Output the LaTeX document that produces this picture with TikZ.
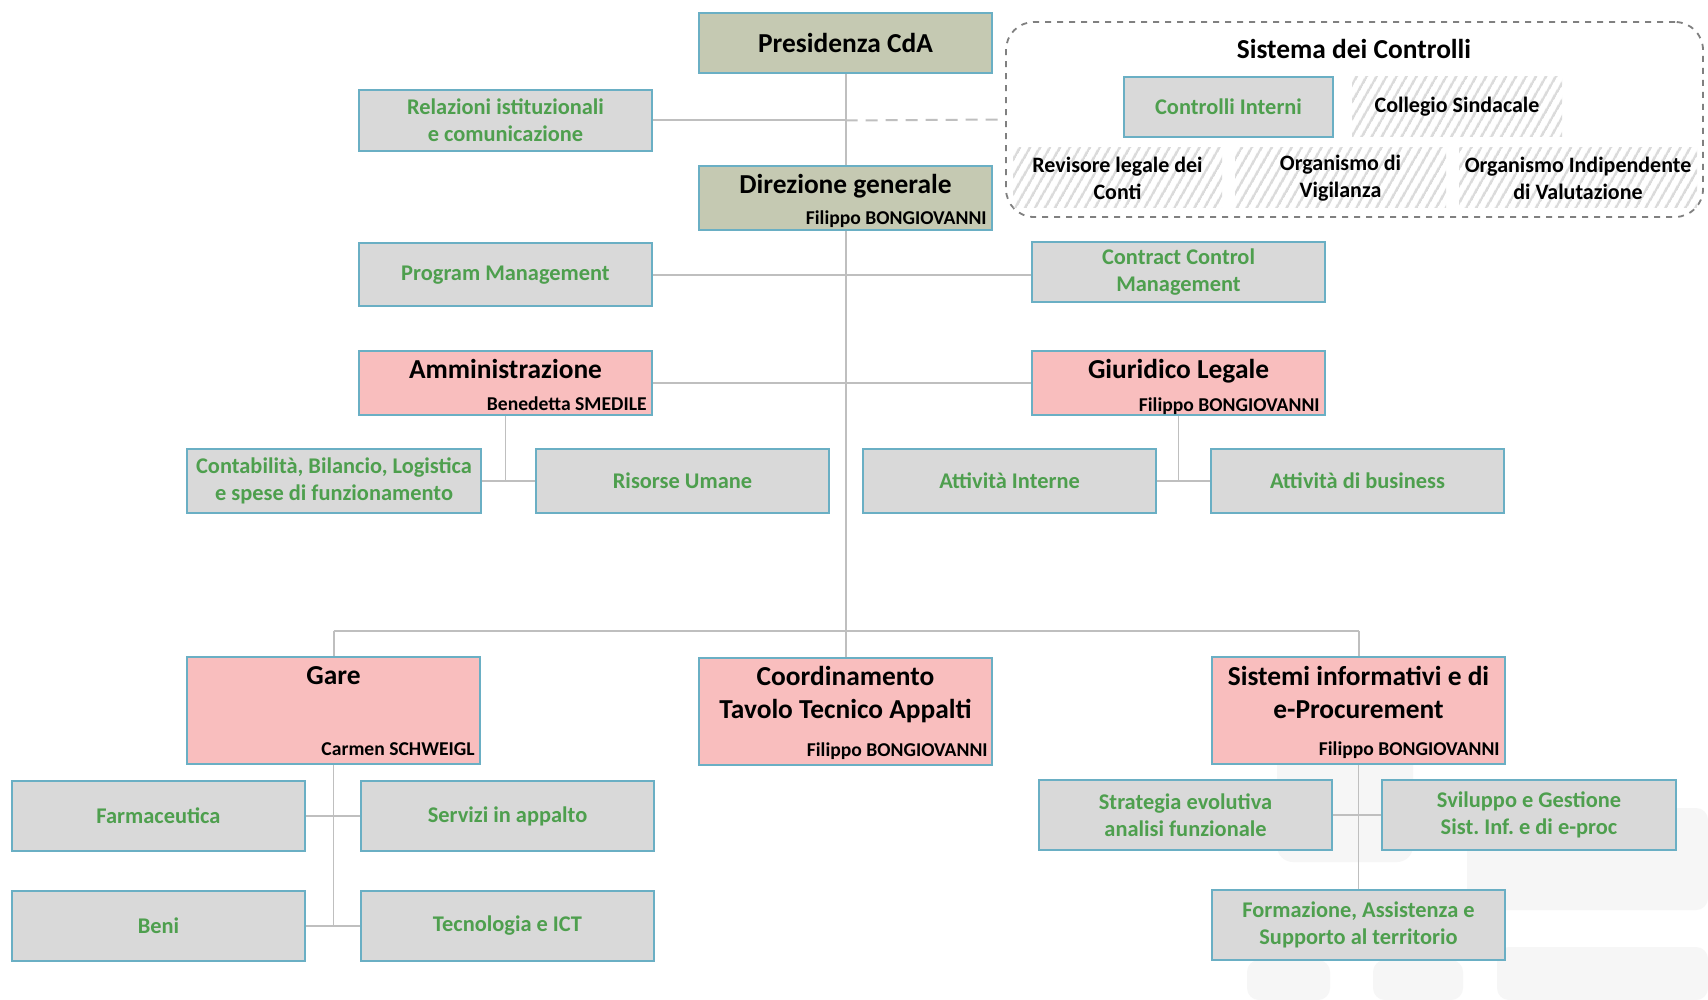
\documentclass[tikz,border=0pt]{standalone}
\usepackage{fontspec}
\setmainfont{Carlito}
\frenchspacing
\usetikzlibrary{patterns.meta}

\definecolor{olivefill}{HTML}{C5C9B2}
\definecolor{pinkfill}{HTML}{F9BEBE}
\definecolor{greyfill}{HTML}{D9D9D9}
\definecolor{edgeblue}{HTML}{6AAFC4}
\definecolor{labelgreen}{HTML}{4E9F4E}
\definecolor{linkgrey}{HTML}{BFBFBF}
\definecolor{markgrey}{HTML}{F6F6F6}

\tikzset{
  unit/.style={rectangle, draw=edgeblue, line width=1pt, inner sep=0pt, align=center},
  office/.style={unit, fill=greyfill, text=labelgreen,
    font=\bfseries\fontsize{11.2}{13.6}\selectfont, minimum width=146.5pt},
  board/.style={unit, fill=olivefill, minimum width=146.5pt},
  dept/.style={unit, fill=pinkfill, minimum width=146.5pt},
  ttl/.style={inner sep=0pt, align=center, font=\bfseries\fontsize{13.7}{16.5}\selectfont},
  who/.style={inner sep=0pt, font=\bfseries\fontsize{9.8}{11}\selectfont},
  organ/.style={rectangle, inner sep=0pt, align=center,
    pattern={Lines[angle=60,distance=4pt,line width=1.3pt]}, pattern color=gray!28,
    font=\bfseries\fontsize{11}{13.6}\selectfont},
  link/.style={draw=linkgrey, line width=1pt},
  sublink/.style={draw=linkgrey, line width=0.8pt},
}

\begin{document}
\begin{tikzpicture}[x=0.5pt, y=-0.5pt]
  \useasboundingbox[fill=white] (0,0) rectangle (1708,1000);

  % faint background mark, bottom right
  \fill[markgrey, rounded corners=8pt] (1277,720) rectangle (1413,862);
  \fill[markgrey, rounded corners=6pt] (1467,808) rectangle (1708,910);
  \fill[markgrey, rounded corners=6pt] (1247,960) rectangle (1330,1000);
  \fill[markgrey, rounded corners=6pt] (1373,960) rectangle (1463,1000);
  \fill[markgrey, rounded corners=6pt] (1497,947) rectangle (1708,1000);

  % top of the tree
  \node[board, minimum height=30pt, font=\bfseries\fontsize{13.7}{16}\selectfont] (pres) at (845.5,43) {Presidenza CdA};
  \node[office, minimum height=30.5pt] (rel) at (505.5,120.5) {Relazioni istituzionali\\e comunicazione};
  \node[board, minimum height=32pt] (dir) at (845.5,198) {};
  \node[ttl, anchor=base] (dirT) at (845.5,194) {Direzione generale};
  \node[who, anchor=base east] (dirN) at (987,225) {Filippo BONGIOVANNI};

  % control system
  \node[draw=gray, dashed, line width=0.9pt, rounded corners=14pt, minimum width=348.5pt,
        minimum height=97.5pt, inner sep=0pt] (ctrl) at (1354.5,119.5) {};
  \node[ttl, anchor=base] (ctrlT) at (1354,59) {Sistema dei Controlli};
  \node[office, minimum width=104.5pt, minimum height=30pt] (ci) at (1228.5,107) {Controlli Interni};
  \node[organ, minimum width=105pt, minimum height=30pt] (cs) at (1457,107) {Collegio Sindacale};
  \node[organ, minimum width=104.5pt, minimum height=30pt] (rev) at (1117.5,178) {Revisore legale dei\\Conti};
  \node[organ, minimum width=105.5pt, minimum height=30pt] (ov) at (1340.5,178) {Organismo di\\Vigilanza};
  \node[organ, minimum width=119pt, minimum height=30pt] (oiv) at (1578,178) {Organismo Indipendente\\di Valutazione};

  % staff offices
  \node[office, minimum height=31.5pt] (prog) at (505.5,275) {Program Management};
  \node[office, minimum height=30pt] (ccm) at (1178.5,272) {Contract Control\\Management};

  % departments
  \node[dept, minimum height=32pt] (amm) at (505.5,383) {};
  \node[ttl, anchor=base] (ammT) at (505.5,379) {Amministrazione};
  \node[who, anchor=base east] (ammN) at (647,410) {Benedetta SMEDILE};
  \node[dept, minimum height=32pt] (giu) at (1178.5,383) {};
  \node[ttl, anchor=base] (giuT) at (1178.5,379) {Giuridico Legale};
  \node[who, anchor=base east] (giuN) at (1320,411.5) {Filippo BONGIOVANNI};

  \node[office, minimum width=147pt, minimum height=32pt] (cont) at (334,481) {Contabilità, Bilancio, Logistica\\e spese di funzionamento};
  \node[office, minimum height=32pt] (risu) at (682.5,481) {Risorse Umane};
  \node[office, minimum height=32pt] (attint) at (1009.5,481) {Attività Interne};
  \node[office, minimum height=32pt] (attbiz) at (1357.5,481) {Attività di business};

  \node[dept, minimum height=53.5pt] (gare) at (333.5,710.5) {};
  \node[ttl, anchor=base] (gareT) at (333.5,684) {Gare};
  \node[who, anchor=base east] (gareN) at (475,755.5) {Carmen SCHWEIGL};
  \node[dept, minimum height=53.5pt] (coord) at (845.5,711) {};
  \node[ttl, anchor=base] (coordT) at (845.5,718) {Coordinamento\\Tavolo Tecnico Appalti};
  \node[who, anchor=base east] (coordN) at (988,756.5) {Filippo BONGIOVANNI};
  \node[dept, minimum height=53.5pt] (sist) at (1358.5,710.5) {};
  \node[ttl, anchor=base] (sistT) at (1358.5,718) {Sistemi informativi e di\\e-Procurement};
  \node[who, anchor=base east] (sistN) at (1500,755.5) {Filippo BONGIOVANNI};

  \node[office, minimum height=35pt] (farm) at (158.5,816) {Farmaceutica};
  \node[office, minimum height=35pt] (serv) at (507.5,816) {Servizi in appalto};
  \node[office, minimum height=35pt] (beni) at (158.5,926) {Beni};
  \node[office, minimum height=35pt] (tecn) at (507.5,926) {Tecnologia e ICT};
  \node[office, minimum height=35pt] (strat) at (1185.5,815) {Strategia evolutiva\\analisi funzionale};
  \node[office, minimum width=147pt, minimum height=35pt] (svil) at (1529,815) {Sviluppo e Gestione\\Sist. Inf. e di e-proc};
  \node[office, minimum height=35pt] (form) at (1358.5,925) {Formazione, Assistenza e\\Supporto al territorio};

  % junction points
  \coordinate (relJ) at (pres.south |- rel.east);
  \coordinate (busL) at (gare.north |- 0,631);
  \coordinate (busM) at (dir.south |- 0,631);
  \coordinate (busR) at (sist.north |- 0,631);
  \coordinate (ammJ) at (amm.south |- cont.east);
  \coordinate (giuJ) at (giu.south |- attint.east);
  \coordinate (gareJ) at (gare.south |- beni.east);

  % main trunk and staff branches
  \draw[link] (pres.south) -- (dir.north);
  \draw[link] (rel.east) -- (relJ);
  \draw[link, dashed, dash pattern=on 6pt off 4pt] (relJ) -- (ctrl.west);
  \draw[link] (dir.south) -- (busM) -- (coord.north);
  \draw[link] (prog.east) -- (prog.east -| ccm.west);
  \draw[link] (amm.east) -- (giu.west);
  \draw[link] (busL) -- (busR);
  \draw[link] (busL) -- (gare.north);
  \draw[link] (busR) -- (sist.north);

  % sub-units
  \draw[sublink] (amm.south) -- (ammJ);
  \draw[sublink] (cont.east) -- (risu.west);
  \draw[sublink] (giu.south) -- (giuJ);
  \draw[sublink] (attint.east) -- (attbiz.west);
  \draw[sublink] (gare.south) -- (gareJ);
  \draw[sublink] (farm.east) -- (serv.west);
  \draw[sublink] (beni.east) -- (tecn.west);
  \draw[sublink] (sist.south) -- (form.north);
  \draw[sublink] (strat.east) -- (svil.west);
\end{tikzpicture}
\end{document}
